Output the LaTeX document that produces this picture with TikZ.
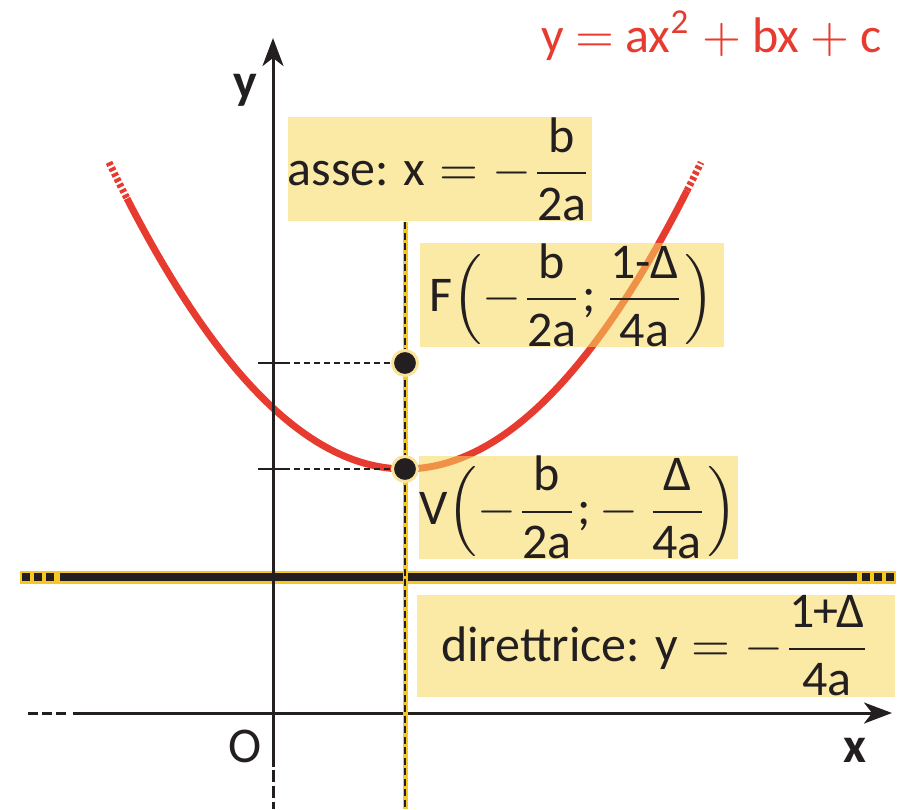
\documentclass[tikz,border=0pt]{standalone}
\usepackage{fontspec}
\setmainfont{Carlito}
\usetikzlibrary{arrows.meta}
\definecolor{curvered}{HTML}{E73B2F}
\definecolor{boxy}{HTML}{F8D95D}
\definecolor{axy}{HTML}{F6C623}
\definecolor{halo}{HTML}{FBE39A}
\definecolor{ink}{HTML}{231F20}
\newcommand\fr[2]{\displaystyle\frac{\mbox{#1}}{\mbox{#2}}}
\newcommand\bigtxt[1]{\scalebox{5}{#1}}
\begin{document}
\begin{tikzpicture}[x=1pt,y=-1pt,
  lbl/.style={fill=boxy, fill opacity=0.55, text opacity=1, inner sep=0pt, text=ink,
              font=\fontsize{10}{12}\selectfont},
  axlab/.style={text=ink, inner sep=0pt, font=\fontsize{10}{12}\selectfont},
  axisln/.style={line width=3pt, draw=ink},
  curv/.style={line width=7pt, draw=curvered},
  curvdot/.style={curv, dash pattern=on 3.5pt off 2.5pt},
  helper/.style={line width=1.6pt, draw=ink, dash pattern=on 6pt off 4pt},
  ptdot/.style={circle, fill=ink, draw=halo, line width=3pt, minimum size=25pt, inner sep=0pt},
  arr/.style={-{Stealth[length=28pt,width=21pt,inset=8pt]}}]
\useasboundingbox (0,0) rectangle (915,809);

% parabola
\draw[curv] plot[domain=-2.78:2.82, samples=90] ({405+100*\x},{469-35*\x*\x});
\draw[curvdot] plot[domain=-2.96:-2.78, samples=6] ({405+100*\x},{469-35*\x*\x});
\draw[curvdot] plot[domain=2.82:2.96, samples=6] ({405+100*\x},{469-35*\x*\x});

% label boxes
\node[lbl, minimum width=304pt, minimum height=104pt] (asse) at (440,169)
  {\bigtxt{$\mbox{asse: x}=-\fr{b}{2a}$}};
\node[lbl, minimum width=304pt, minimum height=102pt] (flab) at (572,295)
  {\bigtxt{$\mbox{F}\Bigl(-\fr{b}{2a}\mbox{;}\,\fr{1{-}Δ}{4a}\Bigr)$}};
\node[lbl, minimum width=317pt, minimum height=101pt] (vlab) at (578.5,507.5)
  {\bigtxt{$\mbox{V}\Bigl(-\fr{b}{2a}\mbox{;}\,{-}\,\fr{Δ}{4a}\Bigr)$}};
\node[lbl, minimum width=478pt, minimum height=102pt] (dlab) at (656,646)
  {\bigtxt{$\mbox{direttrice: y}=-\fr{1{\kern-0.3pt}{+}{\kern-0.3pt}Δ}{4a}$}};

% directrix
\coordinate (dL) at (20,577);
\coordinate (dR) at (896,577);
\coordinate (dL1) at (22,577);
\coordinate (dL2) at (56,577);
\coordinate (dS1) at (60,577);
\coordinate (dS2) at (857,577);
\coordinate (dR1) at (862,577);
\coordinate (dR2) at (894,577);
\draw[line width=13pt, draw=axy] (dL) -- (dR);
\draw[line width=7.5pt, draw=ink] (dS1) -- (dS2);
\draw[line width=7.5pt, draw=ink, dash pattern=on 8pt off 4pt] (dL1) -- (dL2);
\draw[line width=7.5pt, draw=ink, dash pattern=on 8pt off 4pt] (dR1) -- (dR2);

% axes
\coordinate (xA) at (28,713);
\coordinate (xB) at (68,713);
\coordinate (xC) at (73,713);
\coordinate (xTip) at (892,713);
\coordinate (yA) at (273,809);
\coordinate (yB) at (273,770);
\coordinate (yC) at (273,767);
\coordinate (yTip) at (273,38);
\draw[axisln, dash pattern=on 10pt off 4pt] (xA) -- (xB);
\draw[axisln, arr] (xC) -- (xTip);
\draw[axisln, dash pattern=on 12pt off 4pt] (yB) -- (yA);
\draw[axisln, arr] (yC) -- (yTip);

% axis of symmetry
\coordinate (aT) at (405,222);
\coordinate (aB) at (405,809);
\draw[line width=5pt, draw=axy] (aT) -- (aB);
\draw[line width=1.6pt, draw=ink, dash pattern=on 7pt off 3.5pt] (aT) -- (aB);

% ticks and helper lines
\coordinate (tF1) at (258,363);
\coordinate (tF2) at (284,363);
\coordinate (tV1) at (258,469);
\coordinate (tV2) at (284,469);
\node[ptdot] (F) at (405,363) {};
\node[ptdot] (V) at (405,469) {};
\draw[line width=2.5pt, draw=ink] (tF1) -- (tF2);
\draw[line width=2.5pt, draw=ink] (tV1) -- (tV2);
\draw[helper] (tF2) -- (F.west);
\draw[helper] (tV2) -- (V.west);

% axis labels
\node[axlab, anchor=base, font=\fontsize{10}{12}\selectfont\bfseries] (ylab) at (245,98) {\bigtxt{y}};
\node[axlab, anchor=base, font=\fontsize{10}{12}\selectfont\bfseries] (xlab) at (855,762) {\bigtxt{x}};
\node[axlab, anchor=base] (olab) at (245,762) {\bigtxt{O}};

% equation
\node[axlab, anchor=base east, text=curvered] (eq) at (882,52)
  {\bigtxt{y $=$ ax\textsuperscript{2} $+$ bx $+$ c}};
\end{tikzpicture}
\end{document}
